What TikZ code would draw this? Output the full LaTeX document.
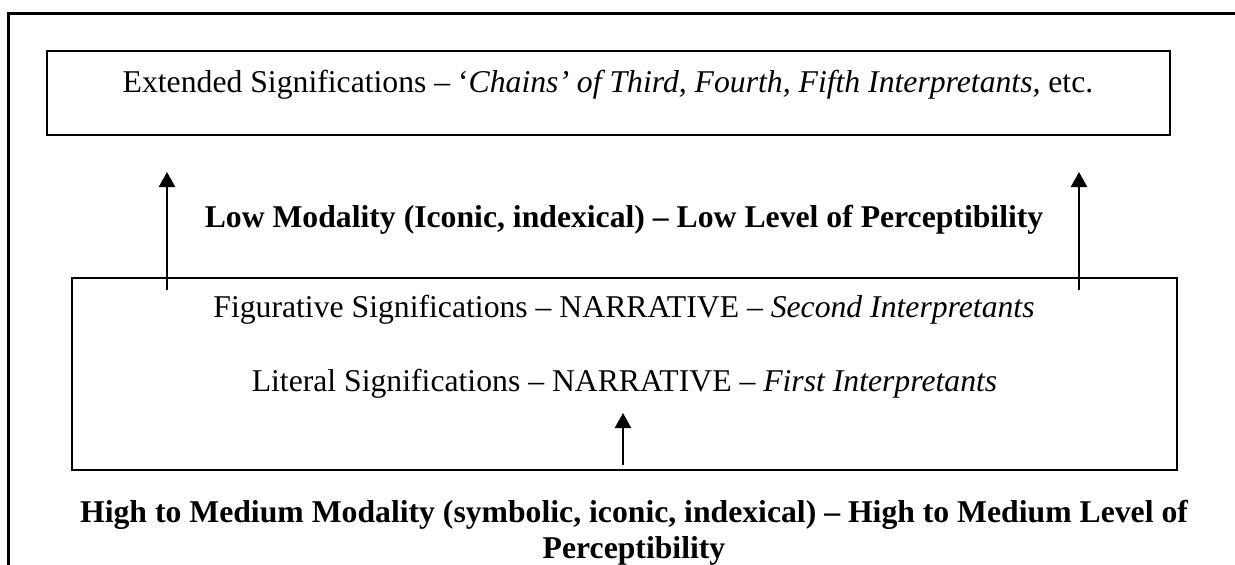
\documentclass[tikz,border=0pt]{standalone}
\usepackage{fontspec}
\setmainfont{Liberation Serif}
\usetikzlibrary{arrows.meta}
\begin{document}
\begin{tikzpicture}[x=1pt,y=-1pt,
  frameline/.style={line width=3pt},
  box/.style={draw,line width=2pt,inner sep=0pt},
  lbl/.style={anchor=base,inner sep=0pt,font=\fontsize{31.7}{36.4}\selectfont},
  blbl/.style={anchor=base,inner sep=0pt,font=\fontsize{31.7}{36.4}\selectfont\bfseries},
  uparrow/.style={line width=2.5pt,-{Triangle[width=16pt,length=15pt]}}]
\useasboundingbox (0,0) rectangle (1235,565);

% outer frame (top and left edges)
\coordinate (fbl) at (8.5,565);
\coordinate (ftl) at (8.5,13);
\coordinate (ftr) at (1235,13);
\draw[frameline] (fbl) -- (ftl) -- (ftr);

% boxes
\node[box,minimum width=1123pt,minimum height=84pt] (ext) at (608.5,93) {};
\node[box,minimum width=1105pt,minimum height=192pt] (narr) at (624.5,374) {};

% texts
\node[lbl] (t1) at (608,92) {Extended Significations – ‘\textit{Chains’ of Third, Fourth, Fifth Interpretants,} etc.};
\node[blbl] (t2) at (624,227) {Low Modality (Iconic, indexical) – Low Level of Perceptibility};
\node[lbl] (t3) at (624,317) {Figurative Significations – NARRATIVE – \textit{Second Interpretants}};
\node[lbl] (t4) at (624.5,391) {Literal Significations – NARRATIVE – \textit{First Interpretants}};
\node[blbl] (t5) at (634,522) {High to Medium Modality (symbolic, iconic, indexical) – High to Medium Level of};
\node[blbl] (t6) at (634,558) {Perceptibility};

% arrows
\coordinate (la0) at (167,290);
\coordinate (la1) at (167,172);
\coordinate (ra0) at (1079,290);
\coordinate (ra1) at (1079,172);
\coordinate (ma0) at (623,465);
\coordinate (ma1) at (623,413);
\draw[uparrow] (la0) -- (la1);
\draw[uparrow] (ra0) -- (ra1);
\draw[uparrow] (ma0) -- (ma1);
\end{tikzpicture}
\end{document}
